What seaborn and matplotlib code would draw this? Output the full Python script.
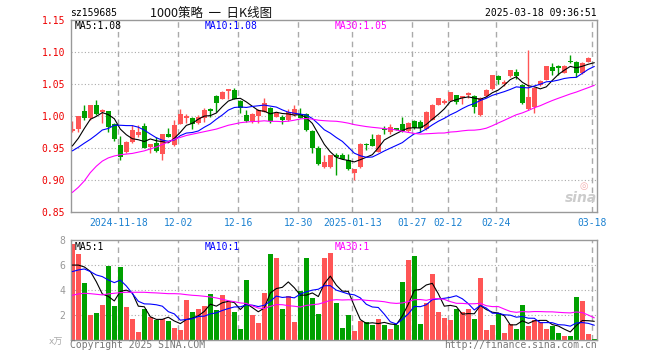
import numpy as np
import pandas as pd
import matplotlib
matplotlib.use("Agg")
import matplotlib.pyplot as plt
import seaborn as sns

# ---------------- data ----------------
opens = [0.977, 0.980, 1.008, 0.997, 1.018, 1.006, 1.008, 0.988, 0.955, 0.944,
         0.960, 0.971, 0.985, 0.952, 0.959, 0.941, 0.972, 0.955, 0.988, 0.998,
         0.998, 0.989, 0.998, 1.011, 1.032, 1.027, 1.039, 1.041, 1.024, 1.002,
         0.992, 1.0005, 1.007, 1.0135, 0.9995, 0.9995, 0.994, 1.002, 1.002, 1.0036,
         0.9776, 0.950, 0.920, 0.9214, 0.9396, 0.9396, 0.932, 0.911, 0.920, 0.956,
         0.9646, 0.944, 0.980, 0.9755, 0.981, 0.988, 0.9776, 0.9927, 0.9917, 0.980,
         0.994, 1.018, 1.020, 1.024, 1.033, 1.028, 1.0333, 1.032, 1.002, 1.031,
         1.042, 1.0635, 1.050, 1.063, 1.070, 1.049, 1.011, 1.015, 1.0484, 1.0568,
         1.0776, 1.0786, 1.068, 1.087, 1.085, 1.067, 1.0854, 1.091]
highs = [0.992, 1.001, 1.018, 1.018, 1.025, 1.012, 1.008, 0.990, 0.969, 0.961,
         0.986, 0.986, 0.990, 0.957, 0.967, 0.972, 0.982, 0.994, 1.011, 1.003,
         0.999, 1.002, 1.0125, 1.013, 1.034, 1.039, 1.043, 1.045, 1.026, 1.010,
         1.0057, 1.011, 1.029, 1.015, 1.007, 1.002, 1.011, 1.0177, 1.0135, 1.0057,
         0.979, 0.9536, 0.9396, 0.9396, 0.942, 0.942, 0.941, 0.917, 0.958, 0.959,
         0.973, 0.972, 0.985, 0.988, 0.982, 0.9995, 0.991, 0.995, 0.995, 1.008,
         1.019, 1.029, 1.0266, 1.0385, 1.034, 1.032, 1.0385, 1.033, 1.030, 1.0427,
         1.065, 1.065, 1.057, 1.073, 1.0734, 1.050, 1.1036, 1.046, 1.057, 1.079,
         1.084, 1.080, 1.080, 1.096, 1.086, 1.085, 1.093, 1.0915]
lows = [0.975, 0.976, 0.995, 0.995, 1.002, 0.990, 0.976, 0.962, 0.931, 0.943,
        0.958, 0.967, 0.950, 0.942, 0.945, 0.931, 0.967, 0.954, 0.988, 0.989,
        0.980, 0.988, 0.9905, 0.9995, 1.006, 1.027, 1.0265, 1.027, 1.005, 0.991,
        0.989, 0.989, 1.006, 0.989, 0.999, 0.9875, 0.993, 1.001, 0.998, 0.9776,
        0.942, 0.924, 0.9187, 0.920, 0.908, 0.933, 0.916, 0.9005, 0.919, 0.948,
        0.954, 0.944, 0.972, 0.973, 0.978, 0.976, 0.976, 0.980, 0.976, 0.979,
        0.994, 1.017, 1.019, 1.024, 1.020, 1.020, 1.028, 1.0057, 1.0005, 1.030,
        1.041, 1.050, 1.048, 1.062, 1.059, 1.020, 1.010, 1.0057, 1.047, 1.056,
        1.0646, 1.0646, 1.067, 1.083, 1.062, 1.066, 1.085, 1.0905]
closes = [0.980, 1.000, 0.997, 1.018, 1.004, 1.010, 0.984, 0.965, 0.937, 0.960,
          0.979, 0.976, 0.951, 0.957, 0.946, 0.972, 0.967, 0.986, 1.004, 1.000,
          0.988, 0.9995, 1.010, 1.008, 1.020, 1.038, 1.043, 1.027, 1.0125, 0.992,
          1.004, 1.010, 1.021, 0.992, 1.0047, 0.994, 1.007, 1.011, 0.998, 0.9786,
          0.950, 0.9255, 0.9286, 0.9396, 0.936, 0.934, 0.917, 0.917, 0.957, 0.955,
          0.954, 0.971, 0.978, 0.983, 0.979, 0.9776, 0.990, 0.981, 0.981, 1.007,
          1.018, 1.028, 1.024, 1.0375, 1.023, 1.031, 1.036, 1.015, 1.028, 1.041,
          1.064, 1.057, 1.053, 1.072, 1.063, 1.021, 1.0297, 1.045, 1.0557, 1.0786,
          1.0714, 1.076, 1.0786, 1.0854, 1.067, 1.084, 1.0917, 1.0906]
volumes = [7.69, 6.89, 4.57, 2.02, 2.18, 2.82, 5.93, 2.74, 5.85, 2.66,
           1.70, 0.66, 2.50, 1.86, 1.62, 1.70, 1.54, 0.98, 0.82, 3.22,
           2.26, 2.50, 2.74, 3.70, 2.42, 3.62, 3.06, 2.26, 0.90, 4.81,
           2.02, 1.38, 3.78, 6.89, 6.57, 2.50, 3.54, 1.46, 3.94, 6.57,
           3.38, 2.10, 6.57, 6.97, 2.98, 0.98, 2.02, 0.74, 1.54, 1.46,
           1.22, 1.70, 1.22, 0.90, 1.22, 4.65, 6.41, 6.73, 1.30, 2.98,
           5.29, 2.26, 1.78, 1.62, 2.50, 2.26, 2.50, 1.70, 4.97, 0.82,
           1.22, 2.18, 0.59, 1.30, 0.90, 2.82, 1.14, 1.62, 1.46, 0.90,
           1.14, 0.59, 0.35, 0.35, 3.46, 3.14, 0.51, 0.11]

# moving-average values at the start of the window (read from the picture,
# their earlier closes lie outside the chart)
ma5_head = [0.9536, 0.9656, 0.981, 0.9953]
ma10_head = [0.946, 0.9516, 0.958, 0.964, 0.971, 0.9786, 0.981, 0.986, 0.986]
ma30_head = [0.881, 0.889, 0.899, 0.912, 0.922, 0.930, 0.935, 0.938, 0.940, 0.941,
             0.942, 0.944, 0.946, 0.949, 0.952, 0.956, 0.960, 0.964, 0.967, 0.970,
             0.972, 0.974, 0.976, 0.978, 0.980, 0.983, 0.986, 0.988, 0.990]
vma5_head = [6.0, 6.0, 5.85, 5.5]
vma10_head = [5.48, 5.61, 5.69, 5.48, 5.21, 5.08, 4.81, 4.6, 4.8]
vma30_head = [3.59, 3.70, 3.75, 3.72, 3.67, 3.62, 3.70, 3.75, 3.80, 3.83,
              3.83, 3.83, 3.83, 3.80, 3.78, 3.75, 3.72, 3.72, 3.70, 3.64,
              3.59, 3.56, 3.51, 3.46, 3.38, 3.27, 3.16, 3.08, 2.98]

tick_pos = [8, 18, 28, 38, 47, 57, 63, 71, 87]
tick_labels = ["2024-11-18", "12-02", "12-16", "12-30", "2025-01-13",
               "01-27", "02-12", "02-24", "03-18"]
price_ticks = [0.85, 0.90, 0.95, 1.00, 1.05, 1.10, 1.15]
vol_ticks = [2, 4, 6, 8]

code = "sz159685"
title = "1000策略  一  日K线图"
stamp = "2025-03-18 09:36:51"

# ---------------- derived ----------------
df = pd.DataFrame({"o": opens, "h": highs, "l": lows, "c": closes, "v": volumes})
df["i"] = np.arange(len(df))


def moving(series, n, head):
    m = series.rolling(n).mean().to_numpy()
    m[:len(head)] = head
    return m


df["ma5"] = moving(df["c"], 5, ma5_head)
df["ma10"] = moving(df["c"], 10, ma10_head)
df["ma30"] = moving(df["c"], 30, ma30_head)
df["vma5"] = moving(df["v"], 5, vma5_head)
df["vma10"] = moving(df["v"], 10, vma10_head)
df["vma30"] = moving(df["v"], 30, vma30_head)
df["dir"] = np.where(df["c"] >= df["o"], "up", "down")

RED = "#ff5555"
GREEN = "#00a000"
colors = np.where(df["dir"] == "up", RED, GREEN)

# ---------------- figure ----------------
sns.set_style("white")
plt.rcParams["font.family"] = ["DejaVu Sans Mono", "Noto Sans CJK SC"]

W, H = 660, 360
fig = plt.figure(figsize=(W / 100, H / 100), dpi=100)


def fx(px):
    return px / W


def fy(py):
    return 1 - py / H


L, R = 70.7, 597.3
ax = fig.add_axes([fx(L), fy(212.3), (R - L) / W, (212.3 - 20.3) / H])
axv = fig.add_axes([fx(L), fy(340.3), (R - L) / W, (340.3 - 240.0) / H])

GRID = "#aaaaaa"
for a in (ax, axv):
    for p in tick_pos:
        a.axvline(p - 0.33, color=GRID, lw=1.0, ls=(0, (4, 3)), zorder=0)
    for s in a.spines.values():
        s.set_color("#999999")
        s.set_linewidth(1.0)
    a.set_xlim(-0.27, 87.5)

for y in price_ticks[1:-1]:
    ax.axhline(y, color=GRID, lw=0.8, ls=(0, (1, 2)), zorder=0)
for y in vol_ticks[:-1]:
    axv.axhline(y, color=GRID, lw=0.8, ls=(0, (1, 2)), zorder=0)

# candles
ax.vlines(df["i"], df["l"], df["h"], colors=colors, lw=1.0, zorder=2)
body_lo = np.minimum(df["o"], df["c"])
body_h = np.maximum(np.abs(df["c"] - df["o"]), 0.0012)
ax.bar(df["i"], body_h, bottom=body_lo, width=0.8, color=colors, linewidth=0, zorder=2)

LW = 0.8
sns.lineplot(data=df, x="i", y="ma5", ax=ax, color="black", lw=LW, zorder=3)
sns.lineplot(data=df, x="i", y="ma10", ax=ax, color="#0000ff", lw=LW, zorder=3)
sns.lineplot(data=df, x="i", y="ma30", ax=ax, color="#ff00ff", lw=LW, zorder=3)
ax.set_ylim(0.85, 1.15)
ax.set_yticks(price_ticks)
ax.set_yticklabels([f"{t:.2f}" for t in price_ticks])
ax.set_xticks([p - 0.33 for p in tick_pos])
ax.set_xticklabels(tick_labels)
ax.tick_params(axis="y", length=0, pad=4, labelsize=7, labelcolor="#ee0000")
ax.tick_params(axis="x", length=0, pad=4, labelsize=7, labelcolor="#1a80d0")
ax.set_xlabel("")
ax.set_ylabel("")

# volume
sns.barplot(data=df, x="i", y="v", hue="dir", palette={"up": RED, "down": GREEN},
            native_scale=True, dodge=False, width=0.85, errorbar=None,
            saturation=1, linewidth=0, legend=False, ax=axv, zorder=2)
sns.lineplot(data=df, x="i", y="vma5", ax=axv, color="black", lw=LW, zorder=3)
sns.lineplot(data=df, x="i", y="vma10", ax=axv, color="#0000ff", lw=LW, zorder=3)
sns.lineplot(data=df, x="i", y="vma30", ax=axv, color="#ff00ff", lw=LW, zorder=3)
axv.set_xlim(-0.27, 87.5)
axv.set_ylim(0, 8)
axv.set_yticks(vol_ticks)
axv.set_yticklabels([str(t) for t in vol_ticks])
axv.set_xticks([])
axv.tick_params(axis="y", length=0, pad=4, labelsize=7, labelcolor="#999999")
axv.set_xlabel("")
axv.set_ylabel("")

# texts
fs = 7
fig.text(fx(70), fy(13), code, fontsize=fs, ha="left", va="center", color="black")
fig.text(fx(150), fy(13), title, fontsize=9, ha="left", va="center", color="#111111",
         family=["Noto Sans CJK SC", "DejaVu Sans"])
fig.text(fx(597), fy(13), stamp, fontsize=fs, ha="right", va="center", color="black")

last = df.iloc[-1]
fig.text(fx(75), fy(26), f"MA5:{last.ma5:.2f}", fontsize=fs, va="center", color="black")
fig.text(fx(205), fy(26), f"MA10:{last.ma10:.2f}", fontsize=fs, va="center", color="#0000ff")
fig.text(fx(335), fy(26), f"MA30:{last.ma30:.2f}", fontsize=fs, va="center", color="#ff00ff")
fig.text(fx(75), fy(246.7), f"MA5:{int(last.vma5)}", fontsize=fs, va="center", color="black")
fig.text(fx(205), fy(246.7), f"MA10:{int(last.vma10)}", fontsize=fs, va="center", color="#0000ff")
fig.text(fx(335), fy(246.7), f"MA30:{int(last.vma30)}", fontsize=fs, va="center", color="#ff00ff")

fig.text(fx(70), fy(345.5), "Copyright 2025 SINA.COM", fontsize=fs, va="center", color="#777777")
fig.text(fx(597), fy(345.5), "http://finance.sina.com.cn", fontsize=fs, ha="right",
         va="center", color="#777777")
fig.text(fx(63), fy(342), "x万", fontsize=6.5, ha="right", va="center", color="#aaaaaa",
         family=["DejaVu Sans", "Noto Sans CJK SC"])
fig.text(fx(581), fy(198), "sina", fontsize=10, ha="center", va="center", color="#cccccc",
         fontweight="bold", style="italic", family=["DejaVu Sans"])
fig.text(fx(584), fy(186), "◎", fontsize=7, ha="center", va="center", color="#f3b0b0",
         family=["DejaVu Sans"])

fig.savefig("out.png", dpi=100)
